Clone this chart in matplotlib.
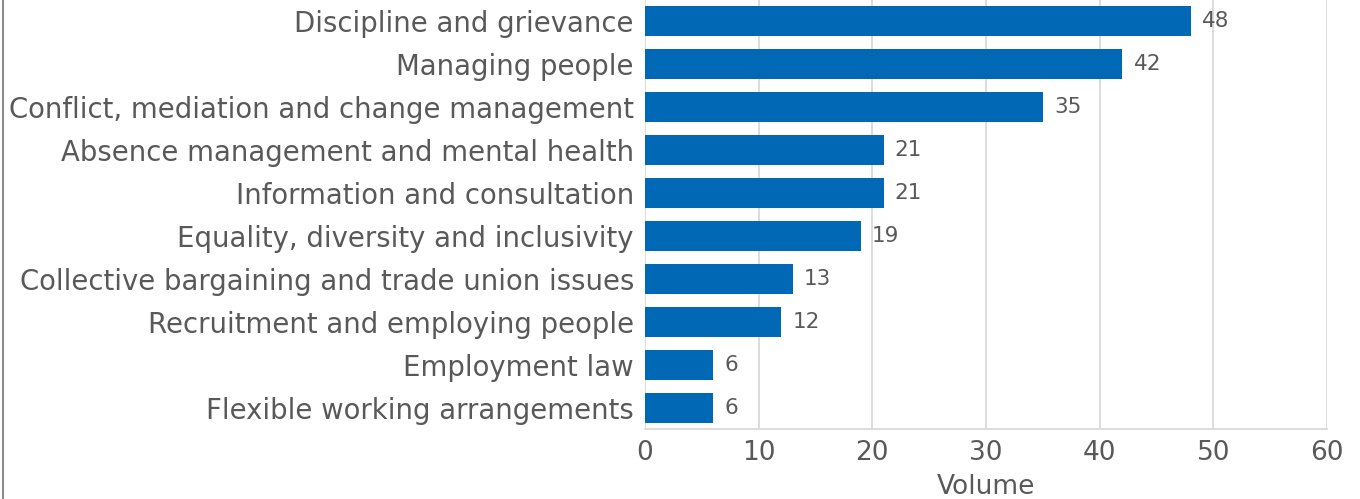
import matplotlib
matplotlib.use("Agg")
import matplotlib.pyplot as plt
from matplotlib.lines import Line2D

categories = [
    "Discipline and grievance",
    "Managing people",
    "Conflict, mediation and change management",
    "Absence management and mental health",
    "Information and consultation",
    "Equality, diversity and inclusivity",
    "Collective bargaining and trade union issues",
    "Recruitment and employing people",
    "Employment law",
    "Flexible working arrangements",
]
volumes = [48, 42, 35, 21, 21, 19, 13, 12, 6, 6]
x_ticks = [0, 10, 20, 30, 40, 50, 60]
x_label = "Volume"

BAR = "#0068b4"
TEXT = "#595959"
GRID = "#d9d9d9"

plt.rcParams["font.family"] = ["DejaVu Sans"]

fig = plt.figure(figsize=(13.6, 4.99), dpi=100)
ax = fig.add_axes([645 / 1360, 1 - 429 / 499, (1327 - 645) / 1360, 429 / 499])

y = list(range(len(categories)))
ax.barh(y, volumes, height=0.7, color=BAR, zorder=3)
ax.set_ylim(len(categories) - 0.5, -0.5)
ax.set_xlim(0, 60)
ax.set_xticks(x_ticks)
ax.set_xticklabels([str(t) for t in x_ticks], fontsize=19, color=TEXT)
ax.set_yticks(y)
ax.set_yticklabels(categories, fontsize=19.8, color=TEXT)
ax.tick_params(axis="both", length=0)
ax.tick_params(axis="x", pad=8)
ax.tick_params(axis="y", pad=8)
ax.grid(axis="x", color=GRID, linewidth=1.3, zorder=0)
for side in ["top", "right", "left"]:
    ax.spines[side].set_visible(False)
ax.spines["bottom"].set_color(GRID)
ax.spines["bottom"].set_linewidth(1.3)
ax.set_xlabel(x_label, fontsize=19, color=TEXT, labelpad=6)

for yi, v in zip(y, volumes):
    ax.annotate(str(v), (v, yi), xytext=(8, 0), textcoords="offset points",
                va="center", ha="left", fontsize=15.5, color=TEXT)

fig.add_artist(Line2D([3 / 1360, 3 / 1360], [0, 1], transform=fig.transFigure,
                      color="#8c8c8c", linewidth=1.5))

fig.savefig("out.png", dpi=100)
